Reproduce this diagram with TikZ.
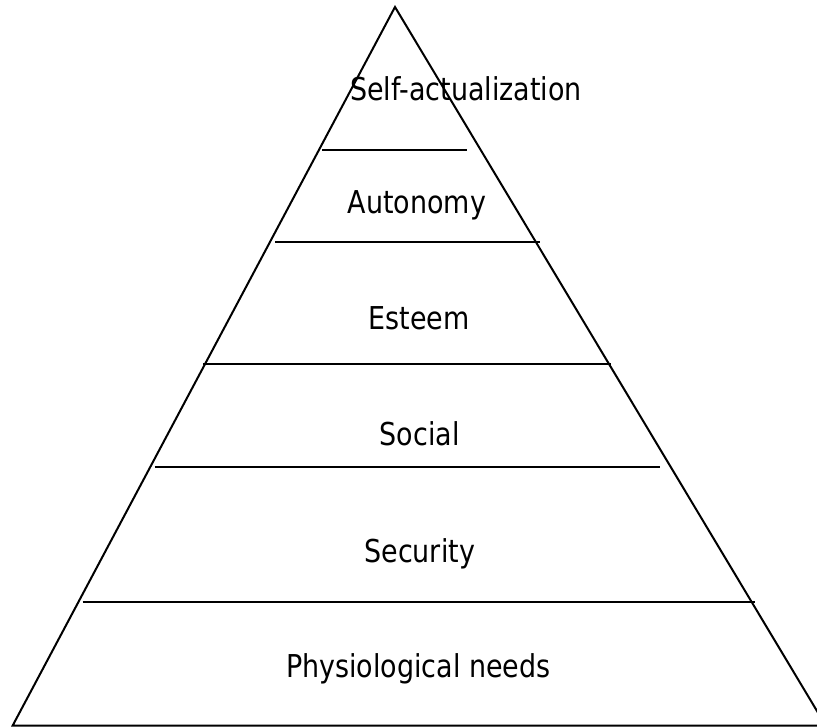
\documentclass[tikz,border=0pt]{standalone}
\usepackage{fontspec}
\setmainfont{DejaVu Sans}[FakeStretch=0.855]
\begin{document}
\begin{tikzpicture}[x=1pt,y=-1pt,
  edge/.style={line width=2pt,black},
  lbl/.style={anchor=base,inner sep=0pt,font=\fontsize{31.5}{36}\selectfont}]
\useasboundingbox (0,0) rectangle (817,728);
\clip (0,0) rectangle (817,728);
% pyramid outline
\coordinate (apex) at (395,7);
\coordinate (bl) at (12.7,725.5);
\coordinate (br) at (825.7,725.5);
\draw[edge,line join=miter] (br) -- (apex) -- (bl) -- (br);
% level dividers
\draw[edge] (322,150) -- (467,150);
\draw[edge] (275,241.5) -- (539.5,241.5);
\draw[edge] (203,363.5) -- (611,363.5);
\draw[edge] (154.5,467) -- (659.5,467);
\draw[edge] (82.5,601.5) -- (755,601.5);
% labels
\node[lbl] (self) at (466,100) {Self-actualization};
\node[lbl] (auto) at (417,213.3) {Autonomy};
\node[lbl] (este) at (419.3,329.3) {Esteem};
\node[lbl] (soci) at (419.7,445) {Social};
\node[lbl] (secu) at (419.7,562.3) {Security};
\node[lbl] (phys) at (418.3,677.7) {Physiological needs};
\end{tikzpicture}
\end{document}
